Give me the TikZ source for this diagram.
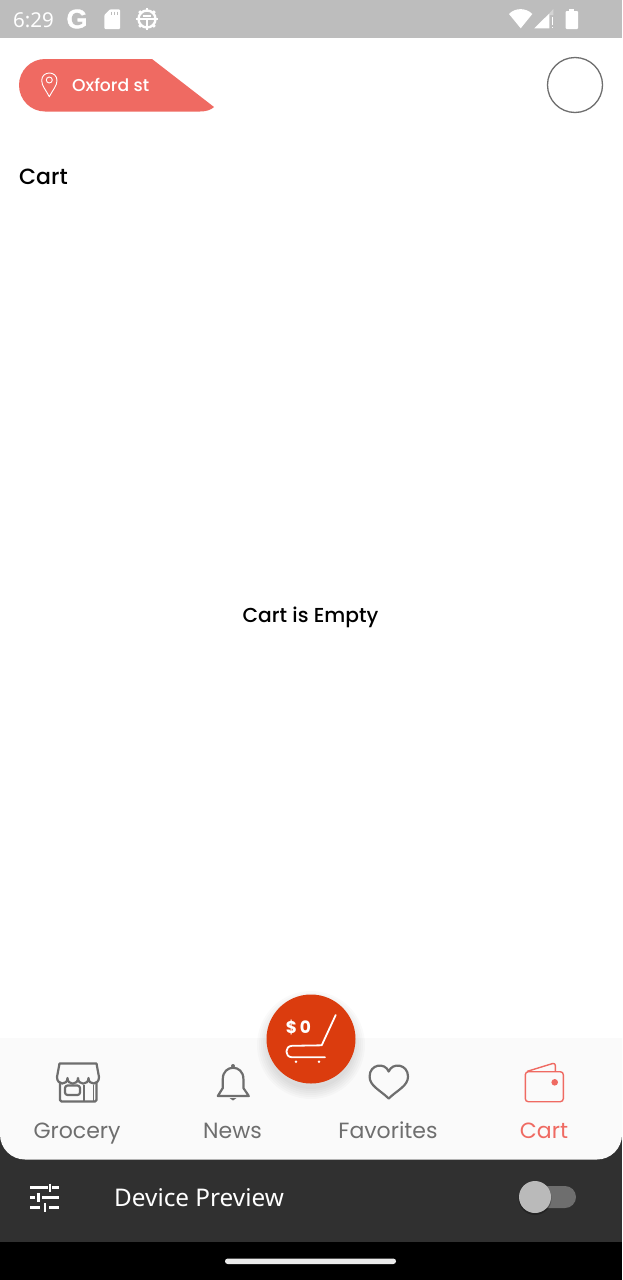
\documentclass[tikz,border=0pt]{standalone}
\usepackage{fontspec}
\usepackage{xcolor}
\usetikzlibrary{calc,positioning}
\newfontfamily\popfont{Poppins}
\newfontfamily\popmedium{Poppins Medium}
\newfontfamily\uifont{Noto Sans}
\newfontfamily\gfont[FakeBold=1.2]{Liberation Sans Bold}
\definecolor{statusgray}{HTML}{BDBDBD}
\definecolor{coral}{HTML}{EF6A62}
\definecolor{iconbase}{HTML}{6E6E6E}
\definecolor{barwhite}{HTML}{FAFAFA}
\definecolor{darkpanel}{HTML}{303030}
\definecolor{fabred}{HTML}{DB3C0E}
\tikzset{
  status text/.style={
    text=white,
    inner sep=0pt,
    font=\uifont\fontsize{20.5}{24}\selectfont
  }
}
\tikzset{
  heading/.style={
    text=black,
    inner sep=0pt,
    anchor=base,
    font=\popmedium\fontsize{20.2}{24}\selectfont
  }
}
\tikzset{
  tab label/.style={
    text=iconbase,
    inner sep=0pt,
    anchor=base,
    font=\popfont\fontsize{22}{26}\selectfont
  }
}
\tikzset{
  tab icon/.style={
    draw=iconbase,
    line width=2.2pt,
    line join=round,
    fill=none
  }
}
\tikzset{
  white stroke/.style={
    draw=white,
    line width=1.8pt,
    line cap=round
  }
}
\tikzset{
  slider bar/.style={
    draw=white,
    line width=2.6pt
  }
}
\begin{document}
\begin{tikzpicture}[x=1pt,y=-1pt]

    \useasboundingbox (0,0) rectangle (622,1280);
    \fill[white] (0,0) rectangle (622,1280);

    % ------------------------------------------------------------
    % Status bar
    % ------------------------------------------------------------

    \fill[statusgray] (0,0) rectangle (622,38);

    \node[status text,anchor=west] (clock) at (13,20) {6:29};
    \node[status text,anchor=center,font=\gfont\fontsize{27}{28}\selectfont] (google) at (77,19) {G};

    % sd card
    \fill[white,rounded corners=1pt]
      (110,9.3) -- (120,9.3) -- (120,29) -- (104.3,29) -- (104.3,15) -- cycle;
    \foreach \x in {111.5,114.5,117.5}
      \draw[statusgray,line width=1.2pt] (\x,11.5) -- (\x,14.5);

    % gear
    \begin{scope}[shift={(147,19)}]
      \draw[white,line width=2.4pt] (0,0) circle[radius=8.5];
      \foreach \a in {0,45,...,315}
        \draw[white,line width=2.8pt] (\a:8.5) -- (\a:11);
      \draw[white,line width=1.8pt] (-8,0) -- (8,0);
      \draw[white,line width=1.8pt] (0,0) -- (0,8);
      \draw[white,line width=1.8pt] (-4,-3) -- (4,-3);
    \end{scope}

    % wifi, signal, battery
    \fill[white]
      (509,14) .. controls (515,7.5) and (526,7.5) .. (532.3,14) -- (520.7,28.3) -- cycle;
    \fill[white] (534.3,28.3) -- (549.3,13.5) -- (549.3,28.3) -- cycle;
    \fill[white,opacity=0.35] (549.3,13.5) -- (553.3,9) -- (553.3,15) -- (549.3,15) -- cycle;
    \fill[white] (551.7,16.5) rectangle (553.3,25);
    \fill[white] (551.7,26.6) rectangle (553.3,28.3);
    \fill[white,rounded corners=1pt] (565.7,11) rectangle (578,29);
    \fill[white] (569.3,9) rectangle (574.3,11.5);

    % ------------------------------------------------------------
    % Header
    % ------------------------------------------------------------

    \fill[coral]
      (152,59) -- (45,59)
      .. controls (30.7,59) and (19,70.7) .. (19,85.2)
      .. controls (19,99.8) and (30.7,111.5) .. (45,111.5)
      -- (200,111.5) .. controls (206,111.5) and (211,110) .. (214,107) -- cycle;

    \draw[white,line width=0.9pt,line join=round]
      (49.3,96.7) .. controls (46,90) and (41.7,86) .. (41.7,80.5)
      .. controls (41.7,70.5) and (57,70.5) .. (57,80.5)
      .. controls (57,86) and (52.6,90) .. (49.3,96.7) -- cycle;
    \draw[white,line width=0.9pt] (49.3,80) circle[radius=3];

    \node[inner sep=0pt,anchor=base west,text=white,font=\popmedium\fontsize{17.2}{20}\selectfont] (location) at (72,91.3) {Oxford st};

    \draw[iconbase,line width=1.3pt] (575,85) circle[radius=27.5];

    \node[heading,anchor=base west,font=\popmedium\fontsize{22}{26}\selectfont] (title) at (19,184.5) {Cart};
    \node[heading] (empty) at (310.5,622) {Cart is Empty};

    % ------------------------------------------------------------
    % Bottom panels
    % ------------------------------------------------------------

    \fill[darkpanel] (0,1120) rectangle (622,1242);
    \fill[black] (0,1242) rectangle (622,1280);
    \fill[barwhite]
      (0,1038) -- (0,1134.5) .. controls (0,1148.3) and (11.2,1159.5) .. (25,1159.5)
      -- (597,1159.5) .. controls (610.8,1159.5) and (622,1148.3) .. (622,1134.5)
      -- (622,1038) -- cycle;
    \fill[white!92!black,rounded corners=2.7pt] (225,1258.5) rectangle (396,1264);

    % ------------------------------------------------------------
    % Tab icons
    % ------------------------------------------------------------

    % grocery
    \draw[tab icon]
      (57,1077) -- (59.5,1063.5) -- (96.5,1063.5) -- (99,1077);
    \draw[tab icon]
      (57,1077) .. controls (57,1085.5) and (67.5,1085.5) .. (67.5,1078)
      .. controls (67.5,1085.5) and (78,1085.5) .. (78,1078)
      .. controls (78,1085.5) and (88.5,1085.5) .. (88.5,1078)
      .. controls (88.5,1085.5) and (99,1085.5) .. (99,1077);
    \draw[tab icon,rounded corners=1.5pt]
      (60,1083) -- (60,1101.5) -- (96.5,1101.5) -- (96.5,1083);
    \draw[tab icon,rounded corners=2.5pt] (65,1085.5) rectangle (80,1095);
    \draw[tab icon] (84,1085) -- (84,1101.5);
    \draw[tab icon,line width=1.4pt] (93.5,1085) -- (93.5,1101.5);

    % news
    \draw[tab icon]
      (217.8,1096) -- (222.8,1088) -- (222.8,1079)
      .. controls (222.8,1064) and (243.4,1064) .. (243.4,1079)
      -- (243.4,1088) -- (248.8,1096) -- cycle;
    \fill[iconbase] (233,1066) circle[radius=2];
    \fill[iconbase] (229.5,1098) -- (236.5,1098) -- (233,1100.5) -- cycle;

    % favorites
    \draw[tab icon]
      (388.7,1098.5) .. controls (380,1090) and (369.6,1086) .. (369.6,1076.5)
      .. controls (369.6,1064) and (385,1062) .. (388.7,1071.5)
      .. controls (392.4,1062) and (408,1064) .. (408,1076.5)
      .. controls (408,1086) and (397.4,1090) .. (388.7,1098.5) -- cycle;

    % cart
    \draw[coral,line width=1.4pt,rounded corners=3pt] (525.3,1071.7) rectangle (563.3,1101.7);
    \draw[coral,line width=1.4pt,line join=round]
      (527.3,1071.3) -- (552.7,1063.5) .. controls (554.5,1063.2) and (555.3,1064) .. (555.3,1065.5) -- (555.3,1071.7);
    \fill[coral] (554.7,1082.3) circle[radius=3.3];

    \node[tab label] (grocery) at (77,1138) {Grocery};
    \node[tab label] (news) at (232.5,1138) {News};
    \node[tab label] (favorites) at (388,1138) {Favorites};
    \node[tab label,text=coral] (carttab) at (544,1138) {Cart};

    % ------------------------------------------------------------
    % Total button
    % ------------------------------------------------------------

    \foreach \r in {54,52,...,44}
      \fill[black,opacity=0.02] (311,1045) circle[radius=\r];
    \fill[fabred] (311,1039) circle[radius=44.5];

    \node[inner sep=0pt,anchor=base,text=white,font=\popfont\bfseries\fontsize{17}{20}\selectfont] (total) at (298.5,1033) {\$\,0};

    \draw[white stroke,line join=round]
      (335.7,1015) -- (321.7,1045.3) -- (292,1045.8)
      .. controls (284.5,1046) and (284.5,1057) .. (292,1057.3) -- (325,1057.3);
    \fill[white] (296,1061.7) circle[radius=1.4];
    \fill[white] (319,1061.7) circle[radius=1.4];

    % ------------------------------------------------------------
    % Preview row
    % ------------------------------------------------------------

    \draw[slider bar] (30,1187.5) -- (48,1187.5) (52,1187.5) -- (59,1187.5);
    \draw[slider bar] (50,1183.5) -- (50,1192);
    \draw[slider bar] (30,1197.5) -- (35,1197.5) (42,1197.5) -- (59,1197.5);
    \draw[slider bar] (38.5,1193) -- (38.5,1202);
    \draw[slider bar] (30,1207.5) -- (40,1207.5) (49,1207.5) -- (59,1207.5);
    \draw[slider bar] (45,1203) -- (45,1212);

    \node[inner sep=0pt,anchor=west,text=white,font=\uifont\fontsize{24.3}{28}\selectfont] (preview) at (114,1198) {Device Preview};

    \fill[black!57,rounded corners=11pt] (525,1186) rectangle (576,1208);
    \fill[black,opacity=0.25] (535,1198.5) circle[radius=16.5];
    \fill[black!27] (535,1197) circle[radius=16];

    \end{tikzpicture}
\end{document}
